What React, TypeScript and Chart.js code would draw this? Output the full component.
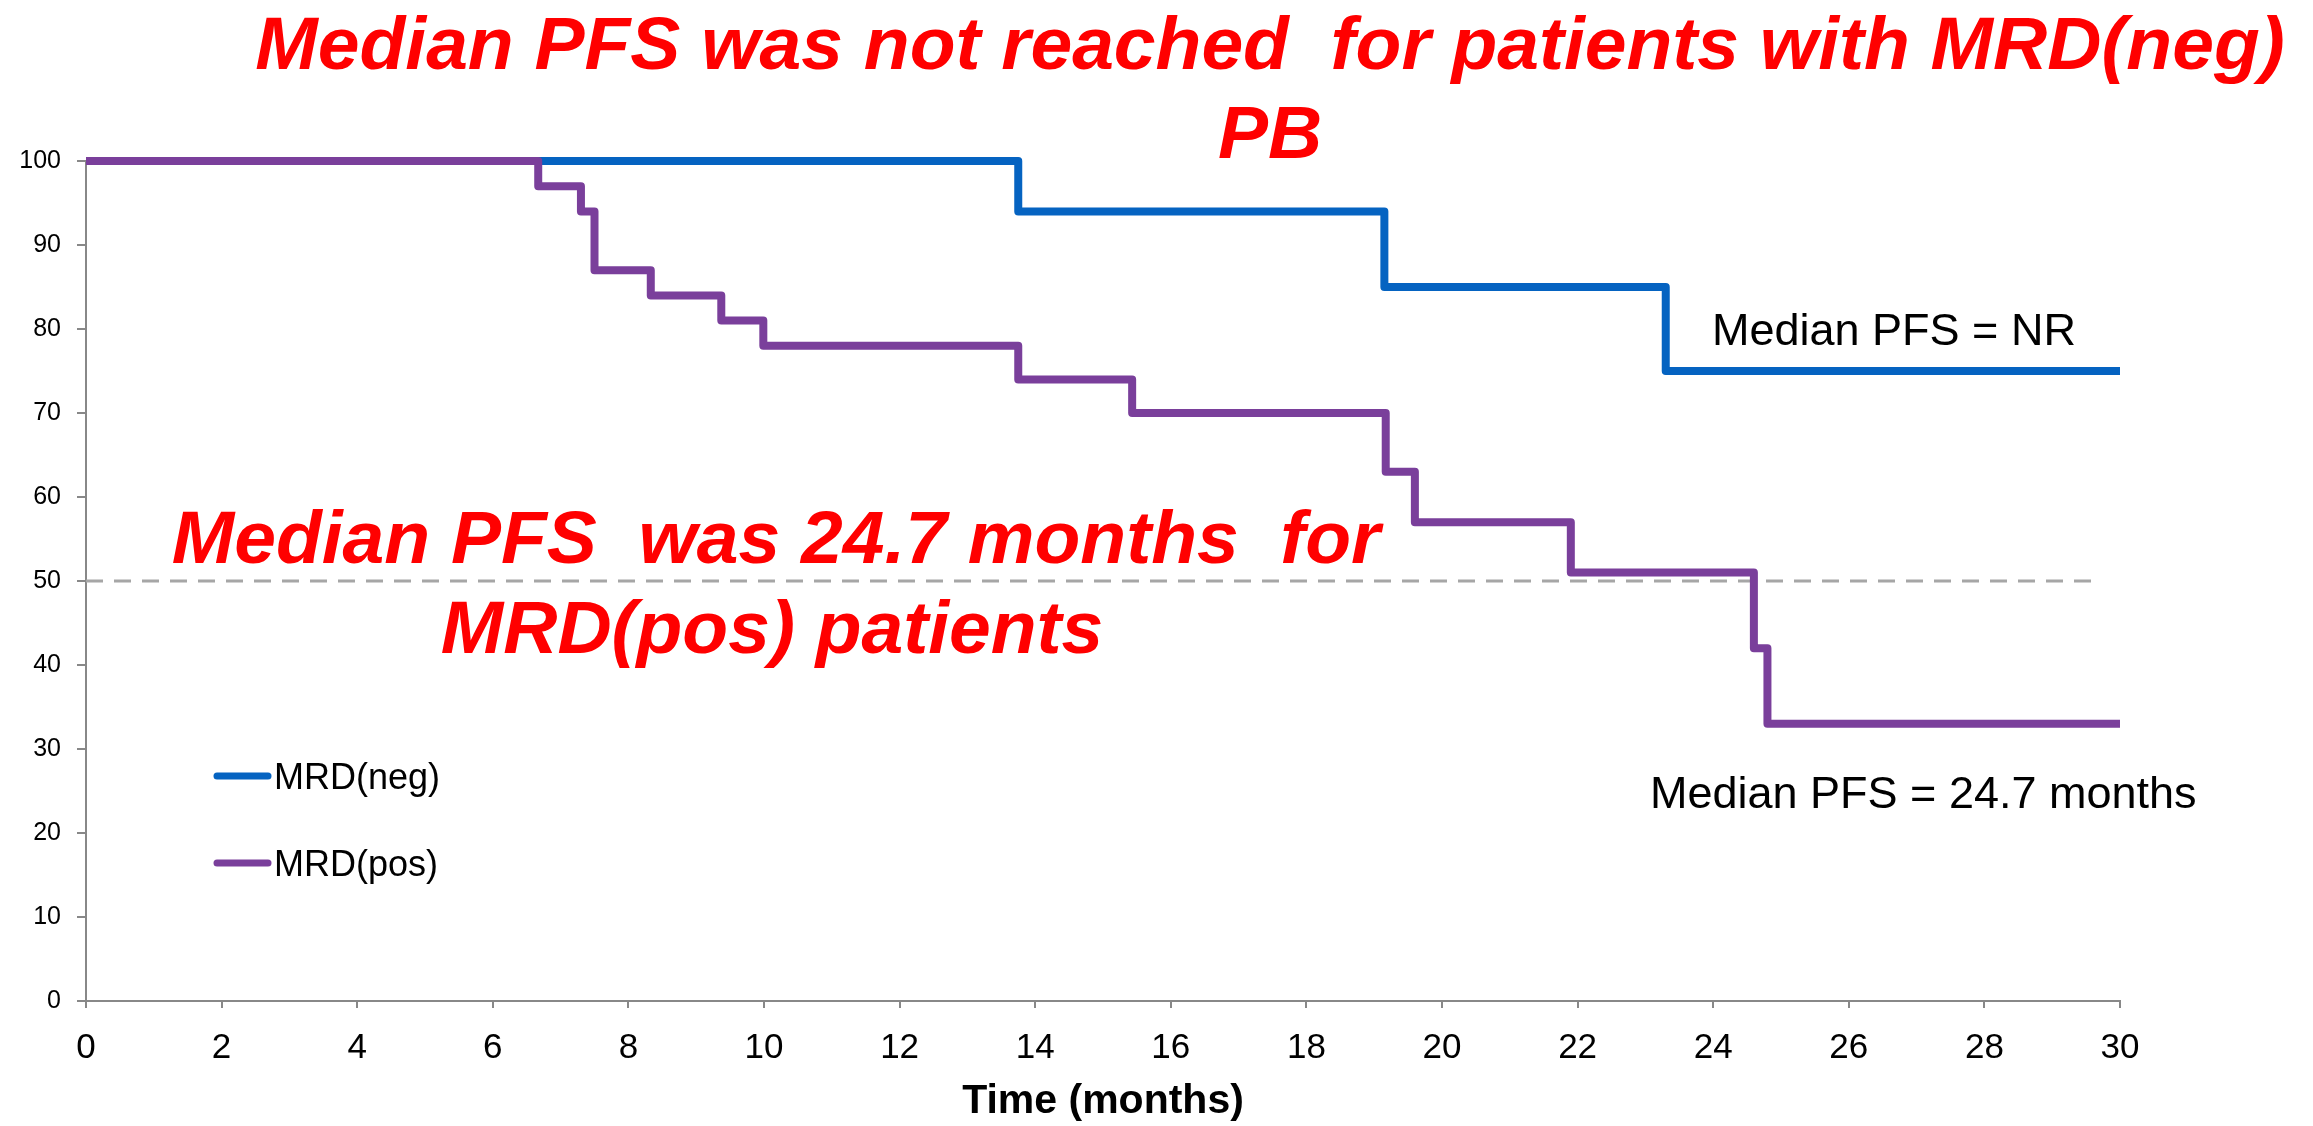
import React, { useEffect, useRef } from "react";
import { Chart, registerables } from "chart.js";

Chart.register(...registerables);

// ---- data ----
const seriesNames = ["MRD(neg)", "MRD(pos)"];
const seriesColors = ["#0563C1", "#7A3F9B"];
const negTimes = [0, 13.75, 19.15, 23.3, 30];
const negSurvival = [100, 94, 85, 75, 75];
const posTimes = [0, 6.67, 7.3, 7.5, 8.33, 9.37, 9.99, 13.75, 15.43, 19.17, 19.6, 21.9, 24.6, 24.8, 30];
const posSurvival = [100, 97, 94, 87, 84, 81, 78, 74, 70, 63, 57, 51, 42, 33, 33];
const medianTimes = [0, 29.6];
const medianLevels = [50, 50];
const xMin = 0;
const xMax = 30;
const xStep = 2;
const yMin = 0;
const yMax = 100;
const yStep = 10;
const titleLines = ["Median PFS was not reached  for patients with MRD(neg)", "PB"];
const posNoteLines = ["Median PFS  was 24.7 months  for", "MRD(pos) patients"];
const negMedianLabel = "Median PFS = NR";
const posMedianLabel = "Median PFS = 24.7 months";
const xAxisTitle = "Time (months)";

const FONT = "'Liberation Sans', Arial, Helvetica, sans-serif";

const toPoints = (xs: number[], ys: number[]) => xs.map((x, i) => ({ x, y: ys[i] }));

const annotationPlugin = {
  id: "kmAnnotations",
  afterDraw(chart: any) {
    const ctx = chart.ctx as CanvasRenderingContext2D;
    ctx.save();
    ctx.textBaseline = "alphabetic";

    // red title
    ctx.fillStyle = "#FF0000";
    ctx.font = `italic bold 75px ${FONT}`;
    ctx.textAlign = "center";
    ctx.fillText(titleLines[0], 1270, 69);
    ctx.fillText(titleLines[1], 1270, 158);

    // red MRD(pos) note
    ctx.fillText(posNoteLines[0], 776, 563);
    ctx.fillText(posNoteLines[1], 772, 653);

    // median labels
    ctx.fillStyle = "#000000";
    ctx.font = `45px ${FONT}`;
    ctx.textAlign = "left";
    ctx.fillText(negMedianLabel, 1712, 345);
    ctx.fillText(posMedianLabel, 1650, 808);

    // legend
    const legendY = [776, 863];
    ctx.font = `36px ${FONT}`;
    seriesNames.forEach((name, i) => {
      ctx.strokeStyle = seriesColors[i];
      ctx.lineWidth = 7;
      ctx.lineCap = "round";
      ctx.beginPath();
      ctx.moveTo(217, legendY[i]);
      ctx.lineTo(268, legendY[i]);
      ctx.stroke();
      ctx.fillStyle = "#000000";
      ctx.fillText(name, 274, legendY[i] + 13);
    });
    ctx.restore();
  },
};

export default function App() {
  const canvasRef = useRef<HTMLCanvasElement | null>(null);

  useEffect(() => {
    if (!canvasRef.current) return;
    const chart = new Chart(canvasRef.current, {
      type: "line",
      data: {
        datasets: [
          {
            label: seriesNames[1],
            data: toPoints(posTimes, posSurvival),
            borderColor: seriesColors[1],
            backgroundColor: seriesColors[1],
            borderWidth: 8,
            stepped: "before",
            pointRadius: 0,
            fill: false,
            order: 0,
            clip: false,
            borderJoinStyle: "round",
          },
          {
            label: seriesNames[0],
            data: toPoints(negTimes, negSurvival),
            borderColor: seriesColors[0],
            backgroundColor: seriesColors[0],
            borderWidth: 8,
            stepped: "before",
            pointRadius: 0,
            fill: false,
            order: 1,
            clip: false,
            borderJoinStyle: "round",
          },
          {
            label: "median",
            data: toPoints(medianTimes, medianLevels),
            borderColor: "#A6A6A6",
            borderWidth: 3,
            borderDash: [17, 11],
            pointRadius: 0,
            fill: false,
            order: 2,
          },
        ],
      },
      options: {
        responsive: false,
        animation: false,
        devicePixelRatio: 1,
        layout: { padding: { left: 0, top: 161, right: 193, bottom: 0 } },
        plugins: {
          legend: { display: false },
          tooltip: { enabled: false },
          title: { display: false },
        },
        scales: {
          x: {
            type: "linear",
            min: xMin,
            max: xMax,
            afterFit: (scale: any) => {
              scale.height = 125;
            },
            ticks: {
              stepSize: xStep,
              color: "#000000",
              font: { family: FONT, size: 35 },
              padding: 19,
              maxRotation: 0,
              autoSkip: false,
            },
            grid: {
              display: true,
              drawOnChartArea: false,
              drawTicks: true,
              tickLength: 7,
              color: "#888888",
              lineWidth: 2,
            },
            border: { display: true, color: "#888888", width: 2 },
            title: {
              display: true,
              text: xAxisTitle,
              color: "#000000",
              font: { family: FONT, size: 41, weight: "bold" },
              padding: { top: 0, bottom: 0 },
            },
          },
          y: {
            type: "linear",
            min: yMin,
            max: yMax,
            afterFit: (scale: any) => {
              scale.width = 86;
            },
            ticks: {
              stepSize: yStep,
              color: "#000000",
              font: { family: FONT, size: 25 },
              padding: 16,
            },
            grid: {
              display: true,
              drawOnChartArea: false,
              drawTicks: true,
              tickLength: 9,
              color: "#888888",
              lineWidth: 2,
            },
            border: { display: true, color: "#888888", width: 2 },
          },
        },
      },
      plugins: [annotationPlugin],
    } as any);
    return () => chart.destroy();
  }, []);

  return (
    <div
      style={{
        position: "fixed",
        left: 0,
        top: 0,
        width: 2313,
        height: 1126,
        background: "#ffffff",
      }}
    >
      <canvas ref={canvasRef} width={2313} height={1126} style={{ width: 2313, height: 1126 }} />
    </div>
  );
}
